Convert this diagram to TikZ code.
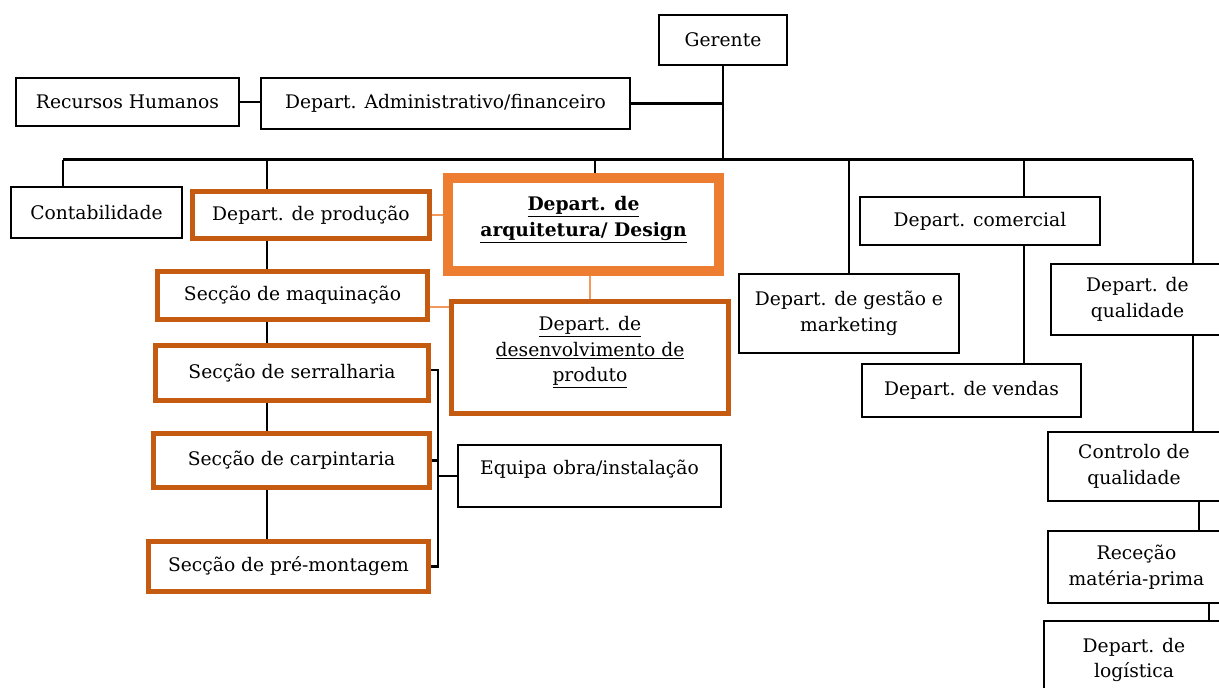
\documentclass[tikz,border=0pt]{standalone}
\usepackage{fontspec}
\setmainfont{DejaVu Serif}
\definecolor{orangeD}{HTML}{C55A11}
\definecolor{orangeL}{HTML}{ED7D31}
\definecolor{orangeT}{HTML}{F19A5B}
\begin{document}
\begin{tikzpicture}[x=1pt,y=-1pt,
  every node/.style={font=\fontsize{18.7}{25.5}\selectfont, align=center, inner sep=0pt},
  sz/.style 2 args={minimum width=#1pt, minimum height=#2pt},
  bbox/.style={draw=black, line width=2pt, fill=white},
  obox/.style={draw=orangeD, line width=5pt, fill=white},
  dbox/.style={draw=orangeL, line width=10pt, fill=white},
  txt/.style={draw=none, fill=none},
  conn/.style={draw=black, line width=2.8pt},
  thinconn/.style={draw=black, line width=2.2pt},
  oconn/.style={draw=orangeT, line width=1.5pt}]
\clip (0,0) rectangle (1219,688);
\fill[white] (0,0) rectangle (1219,688);

\coordinate (busL) at (63,159.5);
\coordinate (busR) at (1193,159.5);
\coordinate (pB) at (267,159.5);
\coordinate (dB) at (595,159.5);
\coordinate (cB) at (1024,159.5);
\coordinate (brk) at (438,370);
\coordinate (q2) at (1199,0);
\coordinate (q3) at (1209,0);
\coordinate (mq) at (440,307);

\node[bbox, sz={128}{50}] (gerente) at (723,40) {Gerente};
\node[bbox, sz={223}{48}] (rh) at (127.5,102) {Recursos Humanos};
\node[bbox, sz={369}{51}] (adm) at (445.5,103.5) {Depart. Administrativo/financeiro};
\node[bbox, sz={171}{51}] (contab) at (96.5,212.5) {Contabilidade};
\node[obox, sz={237}{47}] (prod) at (311,215) {Depart. de produção};
\node[dbox, sz={271}{93}] (design) at (583.5,224.5) {};
\node[txt] (designT) at ([yshift=5pt]design.center) {\textbf{\underline{Depart. de}}\\\textbf{\underline{arquitetura/ Design}}};
\node[obox, sz={270}{48}] (maq) at (292.5,295.5) {Secção de maquinação};
\node[obox, sz={277}{112}] (desenv) at (590,357.5) {};
\node[txt] (desenvT) at ([yshift=5.5pt]desenv.center) {\underline{Depart. de}\\\underline{desenvolvimento de}\\\underline{produto}};
\node[obox, sz={273}{55}] (serr) at (292,373) {Secção de serralharia};
\node[obox, sz={276}{54}] (carp) at (291.5,460.5) {Secção de carpintaria};
\node[obox, sz={280}{50}] (pre) at (288.5,566.5) {Secção de pré-montagem};
\node[bbox, sz={263}{62}] (equipa) at (589.5,476) {};
\node[txt] (equipaT) at ([yshift=7pt]equipa.center) {Equipa obra/instalação};
\node[bbox, sz={220}{79}] (gestao) at (849,313.5) {Depart. de gestão e\\marketing};
\node[bbox, sz={240}{48}] (comercial) at (980,221) {Depart. comercial};
\node[bbox, sz={219}{53}] (vendas) at (971.5,390.5) {Depart. de vendas};
\node[bbox, sz={173}{71}] (qual) at (1137.5,299.5) {Depart. de\\qualidade};
\node[bbox, sz={172}{69}] (controlo) at (1134,466.5) {Controlo de\\qualidade};
\node[bbox, sz={177}{72}] (rececao) at (1136.5,567) {Receção\\matéria-prima};
\node[bbox, sz={180}{78}] (logistica) at (1134,660) {Depart. de\\logística};

% black connectors
\draw[conn] (rh.east) -- (rh.east -| adm.west);
\draw[conn] (adm.east) -- (adm.east -| gerente.south);
\draw[conn] (gerente.south) -- (gerente.south |- busL);
\draw[conn] (busL) -- (busR);
\draw[conn] (busL) -- (busL |- contab.north);
\draw[conn] (pB) -- (pB |- prod.north);
\draw[conn] (dB) -- (dB |- design.north);
\draw[conn] (gestao.north |- busL) -- (gestao.north);
\draw[conn] (cB) -- (cB |- comercial.north);
\draw[conn] (cB |- comercial.south) -- (cB |- vendas.north);
\draw[conn] (busR) -- (busR |- qual.north);
\draw[conn] (busR |- qual.south) -- (busR |- controlo.north);
\draw[conn] (q2 |- controlo.south) -- (q2 |- rececao.north);
\draw[conn] (q3 |- rececao.south) -- (q3 |- logistica.north);
\draw[conn] (pB |- prod.south) -- (pB |- maq.north);
\draw[conn] (pB |- maq.south) -- (pB |- serr.north);
\draw[conn] (pB |- serr.south) -- (pB |- carp.north);
\draw[conn] (pB |- carp.south) -- (pB |- pre.north);
% bracket
\draw[thinconn] (serr.east |- brk) -- (brk) -- (brk |- pre.east) -- (pre.east);
\draw[thinconn] (carp.east) -- (carp.east -| brk);
\draw[thinconn] (brk |- equipa.west) -- (equipa.west);
% orange connectors
\draw[oconn] (prod.east) -- (prod.east -| design.west);
\draw[oconn] (desenv.north |- design.south) -- (desenv.north);
\draw[oconn] (maq.east |- mq) -- (mq -| desenv.west);
\end{tikzpicture}
\end{document}
